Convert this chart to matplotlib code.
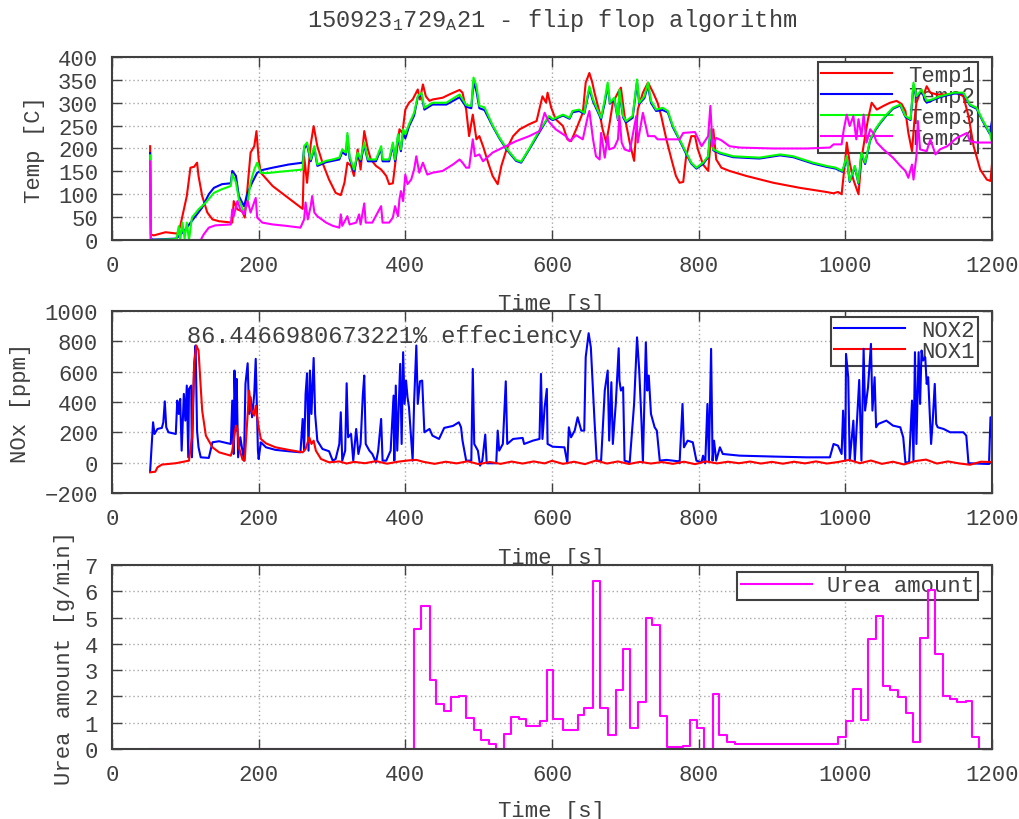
import matplotlib
matplotlib.use('Agg')
import matplotlib.pyplot as plt

plt.rcParams['font.family'] = ['Liberation Mono', 'DejaVu Sans Mono']
plt.rcParams['mathtext.default'] = 'regular'

# (time [s], value) keypoints
temp1 = [(52, 205), (53, 12), (57, 10), (73, 17), (89, 14), (93, 30), (102, 96), (107, 158), (112, 160), (116, 169),
         (118, 140), (123, 96), (130, 60), (137, 45), (146, 41), (164, 38), (166, 85), (171, 67), (178, 62), (181, 49),
         (185, 118), (189, 191), (194, 205), (197, 238), (200, 176), (203, 147), (219, 118), (237, 96), (255, 74),
         (260, 68), (262, 183), (266, 125), (271, 209), (275, 249), (280, 205), (287, 169), (296, 132), (305, 103),
         (312, 98), (317, 125), (321, 169), (326, 162), (330, 140), (335, 198), (339, 154), (344, 238), (349, 198),
         (353, 176), (360, 162), (367, 154), (374, 140), (378, 122), (383, 124), (387, 176), (392, 242), (396, 234),
         (400, 285), (405, 300), (410, 307), (417, 329), (420, 307), (424, 340), (428, 314), (433, 304), (437, 307),
         (451, 311), (460, 318), (474, 328), (478, 322), (483, 285), (487, 227), (492, 274), (497, 220), (501, 227),
         (506, 205), (513, 169), (519, 140), (526, 122), (531, 162), (538, 198), (547, 227), (556, 242), (569, 253),
         (579, 260), (587, 314), (592, 300), (594, 322), (599, 289), (605, 264), (615, 249), (621, 220), (626, 216),
         (633, 242), (642, 278), (646, 344), (651, 365), (655, 344), (658, 322), (665, 278), (669, 242), (674, 213),
         (678, 249), (683, 300), (690, 322), (694, 333), (699, 271), (706, 213), (712, 173), (717, 285), (724, 322),
         (731, 344), (738, 322), (744, 300), (749, 271), (756, 220), (763, 176), (769, 140), (774, 125), (779, 127),
         (783, 183), (790, 227), (795, 227), (799, 198), (806, 165), (813, 151), (817, 227), (820, 242), (824, 176),
         (831, 158), (842, 151), (865, 140), (902, 125), (938, 114), (974, 105), (984, 102), (990, 105), (995, 100),
         (1000, 176), (1002, 213), (1006, 169), (1011, 132), (1018, 100), (1022, 176), (1027, 227), (1031, 264),
         (1036, 300), (1043, 285), (1052, 293), (1061, 300), (1070, 304), (1077, 297), (1082, 282), (1086, 234),
         (1091, 194), (1094, 256), (1097, 300), (1102, 322), (1107, 318), (1111, 336), (1116, 322), (1125, 318),
         (1139, 318), (1152, 322), (1161, 314), (1168, 271), (1175, 205), (1184, 154), (1193, 132), (1198, 129),
         (1200, 165)]

temp2 = [(52, 190), (53, 2), (57, 1), (87, 3), (91, 8), (100, 23), (114, 52), (123, 71), (132, 100), (139, 114),
         (150, 122), (162, 124), (164, 151), (169, 140), (173, 96), (180, 74), (185, 103), (191, 125), (198, 147),
         (205, 153), (219, 158), (241, 165), (260, 169), (262, 200), (266, 208), (271, 172), (276, 200), (280, 162),
         (292, 170), (301, 173), (310, 176), (314, 192), (319, 186), (321, 228), (324, 178), (330, 150), (335, 186),
         (339, 172), (344, 208), (349, 172), (360, 172), (367, 200), (369, 172), (378, 172), (383, 208), (386, 172),
         (390, 226), (394, 194), (397, 236), (400, 222), (405, 248), (412, 272), (417, 312), (422, 318), (426, 285),
         (437, 296), (456, 296), (474, 312), (483, 291), (490, 288), (493, 345), (497, 325), (501, 288), (508, 284),
         (519, 249), (528, 223), (538, 198), (551, 173), (558, 169), (569, 198), (583, 236), (595, 268), (601, 262),
         (615, 272), (624, 265), (628, 279), (637, 282), (644, 276), (651, 330), (656, 303), (662, 282), (667, 264),
         (672, 300), (676, 338), (679, 298), (685, 308), (690, 262), (692, 324), (697, 268), (701, 257), (710, 267),
         (716, 345), (719, 298), (726, 310), (731, 338), (735, 300), (742, 282), (751, 284), (758, 279), (765, 246),
         (774, 218), (783, 188), (790, 167), (797, 156), (806, 166), (813, 181), (816, 238), (820, 196), (829, 189),
         (847, 181), (883, 178), (911, 185), (929, 181), (956, 167), (974, 160), (987, 156), (996, 149), (1002, 180),
         (1006, 127), (1013, 160), (1018, 123), (1022, 189), (1027, 166), (1034, 218), (1041, 240), (1047, 254),
         (1056, 272), (1065, 287), (1075, 294), (1082, 269), (1089, 262), (1093, 338), (1097, 312), (1104, 325),
         (1111, 300), (1118, 305), (1129, 312), (1148, 320), (1161, 320), (1170, 294), (1179, 287), (1188, 258),
         (1197, 232), (1200, 260)]

temp3 = [(52, 185), (53, 0), (88, 2), (91, 30), (93, 0), (96, 38), (99, 3), (102, 38), (105, 0), (109, 49),
         (118, 67), (128, 82), (139, 103), (150, 111), (162, 118), (164, 144), (169, 126), (173, 89), (180, 60),
         (185, 82), (189, 126), (194, 154), (198, 169), (203, 147), (210, 146), (228, 149), (260, 154), (262, 205),
         (266, 213), (271, 176), (276, 205), (280, 165), (292, 173), (301, 176), (310, 180), (314, 198), (319, 191),
         (321, 234), (324, 183), (330, 154), (335, 191), (339, 176), (344, 213), (349, 176), (360, 176), (367, 205),
         (369, 176), (378, 176), (383, 213), (386, 176), (390, 231), (394, 198), (397, 242), (400, 231), (405, 253),
         (412, 278), (417, 314), (422, 322), (426, 289), (437, 300), (456, 300), (474, 318), (483, 295), (490, 293),
         (493, 355), (497, 337), (501, 293), (508, 290), (519, 251), (528, 225), (538, 200), (551, 175), (558, 171),
         (569, 200), (583, 240), (596, 271), (601, 264), (615, 274), (624, 267), (628, 282), (637, 285), (644, 278),
         (651, 336), (656, 307), (662, 285), (667, 267), (672, 307), (676, 344), (679, 300), (685, 311), (690, 264),
         (692, 329), (697, 271), (701, 260), (710, 271), (716, 351), (719, 300), (726, 314), (731, 344), (735, 304),
         (742, 285), (751, 289), (758, 282), (765, 249), (774, 220), (783, 191), (790, 169), (797, 158), (806, 169),
         (813, 183), (816, 242), (820, 198), (829, 191), (847, 183), (883, 180), (911, 187), (929, 183), (956, 169),
         (974, 162), (987, 158), (996, 151), (1002, 183), (1006, 129), (1013, 162), (1018, 125), (1022, 191),
         (1027, 169), (1034, 220), (1041, 242), (1047, 256), (1056, 274), (1065, 289), (1075, 296), (1082, 271),
         (1089, 264), (1093, 344), (1097, 314), (1104, 329), (1111, 304), (1118, 307), (1129, 314), (1148, 322),
         (1161, 322), (1170, 296), (1179, 289), (1188, 260), (1197, 234), (1200, 215)]

temp4 = [(52, 172), (53, 0), (121, 0), (125, 12), (132, 27), (141, 32), (162, 34), (164, 67), (166, 52), (171, 85),
         (175, 67), (180, 56), (185, 85), (189, 60), (196, 92), (198, 49), (205, 38), (219, 34), (237, 31), (257, 27),
         (262, 45), (264, 82), (267, 45), (271, 74), (273, 96), (276, 60), (280, 52), (292, 38), (301, 31), (310, 27),
         (312, 56), (314, 31), (321, 52), (324, 34), (333, 38), (337, 56), (339, 34), (344, 80), (346, 38), (355, 38),
         (367, 74), (369, 38), (378, 38), (383, 49), (386, 74), (390, 52), (392, 89), (394, 107), (397, 85),
         (400, 143), (403, 122), (408, 132), (412, 154), (415, 183), (419, 147), (424, 169), (430, 143), (437, 147),
         (451, 151), (465, 165), (474, 176), (478, 169), (483, 158), (487, 158), (492, 220), (495, 183), (501, 187),
         (506, 172), (519, 191), (533, 202), (551, 216), (569, 227), (583, 238), (590, 278), (595, 260), (601, 249),
         (605, 242), (619, 227), (624, 216), (633, 229), (642, 220), (649, 271), (651, 282), (656, 220), (660, 183),
         (665, 176), (667, 234), (672, 180), (676, 227), (678, 198), (685, 202), (690, 220), (692, 271), (695, 213),
         (699, 198), (706, 194), (715, 271), (717, 213), (724, 278), (728, 249), (731, 227), (740, 227), (744, 220),
         (774, 220), (779, 234), (795, 236), (804, 205), (813, 227), (816, 293), (819, 205), (824, 223), (831, 218),
         (842, 205), (856, 202), (902, 200), (947, 200), (979, 202), (984, 209), (995, 209), (998, 242), (1002, 274),
         (1006, 249), (1011, 271), (1015, 220), (1018, 264), (1022, 227), (1025, 274), (1029, 213), (1034, 242),
         (1038, 234), (1043, 213), (1052, 198), (1065, 180), (1075, 162), (1082, 151), (1086, 136), (1091, 165),
         (1093, 132), (1097, 183), (1099, 260), (1102, 198), (1111, 194), (1116, 220), (1123, 187), (1129, 198),
         (1139, 205), (1152, 223), (1166, 234), (1170, 216), (1179, 213), (1200, 213)]

nox2 = [(52, -57), (56, 266), (58, 189), (62, 222), (68, 229), (70, 266), (72, 404), (74, 233), (77, 200), (87, 189),
        (89, 409), (91, 321), (93, 420), (95, 79), (98, 453), (100, 277), (102, 508), (104, 35), (105, 486),
        (108, 508), (109, 35), (112, 629), (114, 772), (116, 211), (118, 101), (121, 35), (132, 31), (137, 134),
        (146, 141), (162, 123), (164, 409), (166, 57), (167, 607), (169, 211), (170, 552), (172, 35), (175, 167),
        (180, 13), (182, 519), (185, 655), (187, 321), (189, 431), (191, 299), (194, 453), (196, 684), (199, 79),
        (200, 24), (203, 134), (210, 101), (223, 84), (241, 75), (257, 68), (260, 288), (262, 79), (264, 453),
        (266, 589), (268, 79), (270, 607), (272, 321), (275, 690), (277, 321), (280, 145), (287, 90), (296, 75),
        (301, 13), (305, 24), (310, 123), (312, 332), (314, 13), (318, 79), (320, 523), (322, 167), (326, 189),
        (329, 13), (333, 222), (336, 57), (339, 123), (342, 442), (344, 574), (346, 123), (351, 79), (355, 57),
        (360, 2), (363, 79), (367, 288), (369, 13), (374, 13), (380, 79), (384, 442), (385, 13), (387, 508),
        (389, 79), (393, 651), (395, 123), (397, 728), (399, 387), (401, 541), (403, 431), (405, 365), (410, 13),
        (412, 398), (415, 772), (417, 387), (420, 536), (423, 541), (426, 200), (433, 222), (437, 178), (446, 156),
        (453, 229), (465, 242), (473, 266), (476, 233), (478, 145), (483, 13), (490, 13), (492, 618), (494, 123),
        (499, 79), (502, -20), (505, 13), (509, 185), (511, -4), (524, -4), (526, 211), (528, 79), (533, 123),
        (537, 536), (539, 123), (547, 156), (560, 163), (562, 123), (574, 145), (583, 156), (585, 585), (587, 156),
        (590, 365), (593, 486), (594, 123), (601, 105), (617, 101), (621, -4), (623, 233), (626, 167), (631, 211),
        (635, 299), (640, 211), (644, 211), (646, 695), (650, 853), (653, 760), (658, 277), (661, 13), (667, 13),
        (672, 475), (676, 607), (678, 145), (681, 530), (683, 123), (687, 387), (691, 754), (692, 541), (694, 475),
        (697, 497), (699, 13), (706, 2), (712, 387), (716, 826), (719, 607), (722, 277), (724, 2), (728, 793),
        (730, 475), (732, 574), (735, 321), (740, 233), (743, 211), (747, 13), (756, 18), (765, 13), (772, 9),
        (774, -4), (778, 387), (780, 101), (785, 145), (792, 134), (797, 13), (804, 2), (806, 46), (809, -4),
        (812, 387), (814, 13), (817, 750), (819, 13), (821, 145), (824, 13), (829, 101), (833, 57), (856, 46),
        (902, 40), (947, 35), (979, 35), (984, 123), (990, 112), (995, 57), (997, 343), (1000, 13), (1001, 717),
        (1004, 563), (1006, 13), (1011, 277), (1013, 13), (1019, 545), (1022, 13), (1025, 750), (1027, 343),
        (1031, 497), (1035, 783), (1037, 343), (1040, 563), (1042, 233), (1045, 255), (1056, 277), (1065, 244),
        (1075, 233), (1079, 167), (1082, 2), (1087, 2), (1091, 409), (1093, 13), (1095, 728), (1097, 123),
        (1100, 728), (1102, 387), (1104, 739), (1106, 673), (1109, 695), (1111, 519), (1113, 563), (1117, 123),
        (1119, 255), (1122, 519), (1124, 255), (1126, 233), (1134, 222), (1143, 200), (1161, 200), (1165, 178),
        (1168, -4), (1196, -9), (1198, 299), (1200, 167)]

nox1 = [(52, -64), (59, -60), (62, -31), (68, -13), (87, -4), (105, 13), (109, 167), (112, 651), (115, 772),
        (118, 739), (121, 497), (123, 343), (128, 178), (137, 101), (146, 68), (162, 46), (164, 79), (169, 244),
        (171, 222), (173, 101), (178, 20), (181, 13), (185, 321), (187, 475), (190, 343), (194, 310), (196, 376),
        (200, 233), (203, 156), (210, 127), (223, 101), (241, 84), (260, 68), (264, 90), (269, 167), (272, 123),
        (275, 145), (278, 79), (285, 24), (296, 2), (310, 8), (320, -6), (330, 5), (345, -4), (360, 10), (375, -7),
        (390, 6), (405, 15), (415, 18), (425, 5), (440, -8), (455, 6), (470, -5), (485, 9), (500, -10), (515, 4),
        (530, -8), (545, 7), (560, -6), (575, 8), (590, -5), (600, 12), (615, -8), (630, 6), (645, -10), (660, 14),
        (675, -6), (690, 8), (705, -9), (720, 5), (735, -6), (750, 4), (765, -8), (780, 6), (795, -10), (810, 8),
        (825, -5), (840, 6), (855, -4), (870, 7), (885, -6), (900, 5), (915, -7), (930, 6), (945, -5), (960, 8),
        (975, -6), (990, 4), (1005, 18), (1020, -4), (1035, 14), (1050, -8), (1065, 6), (1080, -12), (1095, 10),
        (1110, 20), (1125, -6), (1140, 8), (1155, -5), (1170, -14), (1185, 6), (1200, 4)]

urea_t = [52, 412, 421, 433, 442, 453, 462, 473, 483, 493, 503, 514, 524, 534, 544, 555, 565, 584, 593, 602,
          615, 635, 644, 656, 665, 676, 687, 697, 707, 717, 728, 737, 747, 757, 779, 788, 798, 808, 819, 828,
          839, 849, 990, 1001, 1011, 1021, 1031, 1042, 1051, 1061, 1072, 1083, 1093, 1102, 1113, 1123, 1133,
          1143, 1153, 1164, 1173, 1183, 1200]
urea = [0, 4.57, 5.45, 2.63, 1.70, 1.46, 1.96, 2.03, 1.17, 0.72, 0.34, 0.18, 0.0, 0.57, 1.23, 1.13, 0.89, 1.08,
        3.01, 1.13, 0.72, 1.30, 1.55, 6.40, 1.55, 0.53, 2.24, 3.80, 0.79, 1.80, 4.98, 4.73, 1.26, 0.06, 0.13,
        1.12, 0.79, 0.0, 2.08, 0.53, 0.25, 0.19, 0.47, 1.08, 2.30, 1.12, 4.19, 5.07, 2.41, 2.25, 1.97, 1.36,
        0.25, 4.24, 6.06, 3.62, 2.03, 1.91, 1.80, 1.84, 0.46, 0.0, 0.0]

title = r'150923$_1$729$_A$21 - flip flop algorithm'
efficiency = '86.4466980673221% effeciency'

FS = 16
FRAME = '#404040'
TXT = '#404040'


def style(ax, ylim, yticks):
    ax.set_xlim(0, 1200)
    ax.set_xticks(range(0, 1201, 200))
    ax.set_ylim(*ylim)
    ax.set_yticks(yticks)
    ax.set_axisbelow(True)
    ax.grid(True, color='#a8a8a8', linestyle=(0, (1, 2)), linewidth=1)
    for s in ax.spines.values():
        s.set_color(FRAME)
        s.set_linewidth(1.5)
    ax.tick_params(direction='in', top=True, right=True, length=7, width=1,
                   color=FRAME, labelsize=FS, labelcolor=TXT)
    ax.tick_params(axis='x', pad=11)
    ax.tick_params(axis='y', pad=10)


def draw(ax, pts, color, label):
    t = [p[0] for p in pts]
    v = [p[1] for p in pts]
    ax.plot(t, v, color=color, lw=1.5, label=label, zorder=2)


def legend(ax, y):
    leg = ax.legend(loc='upper right', bbox_to_anchor=(0.984, y), borderaxespad=0,
                    fontsize=FS, fancybox=False, edgecolor=FRAME, framealpha=1,
                    borderpad=0.15, handlelength=3.2, handletextpad=0.7, labelspacing=0.0)
    leg.get_frame().set_linewidth(1.5)
    leg.set_zorder(1)
    for t in leg.get_texts():
        t.set_color(TXT)


fig = plt.figure(figsize=(10.2, 8.2), dpi=100)
ax1 = fig.add_axes([0.1098, 0.7061, 0.8627, 0.2232])
ax2 = fig.add_axes([0.1098, 0.3976, 0.8627, 0.2220])
ax3 = fig.add_axes([0.1098, 0.0854, 0.8627, 0.2244])

fig.text(0.541, 0.9756, title, ha='center', va='center', fontsize=17, color=TXT)

# temperatures
style(ax1, (0, 400), range(0, 401, 50))
draw(ax1, temp1, '#ff0000', 'Temp1')
draw(ax1, temp2, '#0000ff', 'Temp2')
draw(ax1, temp3, '#00ff00', 'Temp3')
draw(ax1, temp4, '#ff00ff', 'Temp4')
legend(ax1, 0.973)
ax1.set_ylabel('Temp [C]', fontsize=FS, color=TXT)
ax1.set_xlabel('Time [s]', fontsize=FS, color=TXT)
ax1.yaxis.set_label_coords(-0.076, 0.5)
ax1.xaxis.set_label_coords(0.5, -0.29)

# NOx
style(ax2, (-200, 1000), range(-200, 1001, 200))
draw(ax2, nox2, '#0000ff', 'NOX2')
draw(ax2, nox1, '#ff0000', 'NOX1')
legend(ax2, 0.967)
ax2.text(0.085, 0.863, efficiency, transform=ax2.transAxes, ha='left', va='center',
         fontsize=17, color=TXT)
ax2.set_ylabel('NOx [ppm]', fontsize=FS, color=TXT)
ax2.set_xlabel('Time [s]', fontsize=FS, color=TXT)
ax2.yaxis.set_label_coords(-0.092, 0.5)
ax2.xaxis.set_label_coords(0.5, -0.297)

# urea
style(ax3, (0, 7), range(0, 8))
ax3.step(urea_t, urea, where='post', color='#ff00ff', lw=1.5, label='Urea amount', zorder=2)
legend(ax3, 0.962)
ax3.set_ylabel('Urea amount [g/min]', fontsize=FS, color=TXT)
ax3.set_xlabel('Time [s]', fontsize=FS, color=TXT)
ax3.yaxis.set_label_coords(-0.042, 0.5)
ax3.xaxis.set_label_coords(0.5, -0.275)

plt.savefig('out.png', dpi=100)
